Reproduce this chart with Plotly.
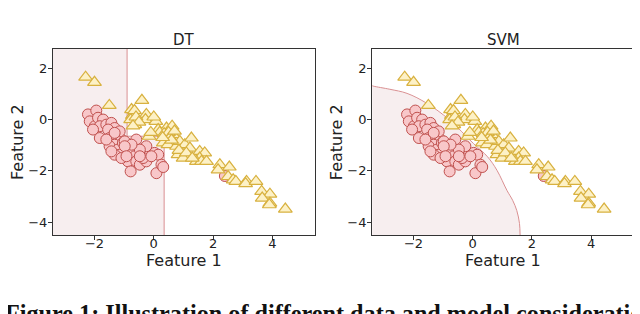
import plotly.graph_objects as go
from plotly.subplots import make_subplots

# ---------------- data ----------------
class0_x = [-2.22, -1.94, -2.16, -1.99, -1.88, -1.71, -1.82, -2.05, -1.60, -1.43, -1.32, -1.54,
            -1.82, -1.49, -1.26, -1.09, -1.32, -1.49, -1.21, -1.04, -0.98, -0.92, -1.15, -1.32,
            -0.87, -0.70, -0.59, -0.64, -0.87, -0.59, -0.47, -0.78, -0.25, -0.19, 0.03, 0.15,
            -0.25, -0.47, 0.09, 0.26, 0.32, -0.36, -0.75, -0.98, -1.15, -1.32, -1.60, -1.43,
            -1.09, -0.92, -0.47, -0.08, 2.40]
class0_y = [0.20, 0.35, -0.07, -0.26, 0.07, 0.00, -0.26, -0.39, -0.20, -0.13, -0.33, -0.39,
            -0.72, -0.72, -0.65, -0.78, -0.98, -1.04, -1.17, -0.91, -0.85, -1.17, -1.37, -1.37,
            -1.37, -1.17, -0.78, -1.43, -1.63, -1.63, -1.76, -2.02, -1.63, -1.37, -1.30, -1.37,
            -1.04, -1.17, -2.09, -1.76, -1.85, -1.50, -0.98, -1.04, -0.46, -0.52, -0.78, -1.24,
            -1.50, -1.43, -1.43, -1.43, -2.20]

class1_x = [-2.30, -2.00, -1.50, -0.40, -0.75, -0.72, -0.78, -0.64, -0.55, -0.25, -0.28, 0.07,
            -0.16, 0.15, 0.43, 0.62, 0.65, 0.32, 0.48, 0.77, 0.88, 1.05, 0.82, 0.99,
            1.27, 1.22, 1.55, 1.72, 1.55, 1.44, 1.61, 1.78, 2.23, 2.17, 2.55, 2.51,
            2.68, 2.77, 3.13, 3.10, 3.45, 3.64, 3.92, 3.66, 3.92, 3.90, 4.44,
            -0.65, -0.60, -0.50, -0.70, 0.00, 0.20, 0.35, 0.50, 0.55, 0.60, 0.70, 0.85,
            1.10, 1.30, 0.30, -0.10]
class1_y = [1.65, 1.45, 0.55, 0.75, 0.39, 0.16, 0.00, -0.20, 0.00, 0.20, 0.00, -0.07,
            -0.65, -0.39, -0.33, -0.26, -0.59, -0.91, -0.98, -1.04, -0.85, -0.98, -1.37, -1.50,
            -0.72, -1.11, -1.24, -1.30, -1.50, -1.63, -1.63, -1.63, -1.76, -1.96, -1.85, -2.22,
            -2.35, -2.41, -2.41, -2.50, -2.41, -2.80, -2.91, -3.06, -3.26, -3.32, -3.49,
            0.35, 0.10, -0.10, -0.25, 0.10, -0.50, -0.55, -0.50, -0.70, -0.80, -0.45, -1.20,
            -1.30, -1.50, -0.70, -0.50]

x_range = [-3.40, 5.45]
y_range = [-4.50, 2.75]

# decision tree splits
dt_split_x1 = -0.90
dt_split_x2 = 0.35
dt_split_y = -0.65

# SVM decision boundary
svm_bx = [-3.40, -3.35, -2.80, -2.22, -1.55, -0.80, 0.03, 0.50, 0.82, 1.16, 1.35, 1.49, 1.58, 1.60]
svm_by = [1.32, 1.30, 1.18, 1.02, 0.63, 0.00, -0.94, -1.45, -1.98, -2.77, -3.15, -3.55, -4.05, -4.50]

titles = ["DT", "SVM"]
x_title = "Feature 1"
y_title = "Feature 2"
x_ticks = [-4, -2, 0, 2, 4]
y_ticks = [-4, -2, 0, 2]
caption = "Figure 1: Illustration of different data and model consideration"

# ---------------- styles ----------------
region_fill = "#f7eeef"
boundary_col = "#d98f91"
c0_fill = "#f8c7c9"
c0_line = "#c0504d"
c1_fill = "#fdf1c6"
c1_line = "#d8b13f"
txt = "#222222"

fig = make_subplots(rows=1, cols=2)

# DT region
dt_px = [x_range[0], x_range[0], dt_split_x1, dt_split_x1, dt_split_x2, dt_split_x2, x_range[0]]
dt_py = [y_range[0], y_range[1], y_range[1], dt_split_y, dt_split_y, y_range[0], y_range[0]]
fig.add_trace(go.Scatter(x=dt_px, y=dt_py, fill="toself", fillcolor=region_fill, mode="none",
                         hoverinfo="skip", showlegend=False), row=1, col=1)
fig.add_trace(go.Scatter(x=[dt_split_x1, dt_split_x1, dt_split_x2, dt_split_x2],
                         y=[y_range[1], dt_split_y, dt_split_y, y_range[0]],
                         mode="lines", line=dict(color=boundary_col, width=1),
                         hoverinfo="skip", showlegend=False), row=1, col=1)

# SVM region
svm_px = svm_bx + [x_range[0]]
svm_py = svm_by + [y_range[0]]
fig.add_trace(go.Scatter(x=svm_px, y=svm_py, fill="toself", fillcolor=region_fill, mode="none",
                         hoverinfo="skip", showlegend=False), row=1, col=2)
fig.add_trace(go.Scatter(x=svm_bx, y=svm_by, mode="lines",
                         line=dict(color=boundary_col, width=1, shape="spline"),
                         hoverinfo="skip", showlegend=False), row=1, col=2)

for col in (1, 2):
    fig.add_trace(go.Scatter(x=class0_x, y=class0_y, mode="markers",
                             marker=dict(symbol="circle", size=11, color=c0_fill,
                                         line=dict(color=c0_line, width=1)),
                             showlegend=False), row=1, col=col)
    fig.add_trace(go.Scatter(x=class1_x, y=class1_y, mode="markers",
                             marker=dict(symbol="triangle-up", size=12, color=c1_fill,
                                         line=dict(color=c1_line, width=1.2)),
                             showlegend=False), row=1, col=col)

axis_common = dict(showgrid=False, zeroline=False, showline=True, mirror=True,
                   linecolor="#333333", linewidth=1, ticks="outside", ticklen=4,
                   tickcolor="#333333", tickfont=dict(family="DejaVu Sans", size=13, color=txt))

# page body has an 8px offset, so the layout is shifted to compensate
W, H = 640, 314
plot_l, plot_r, plot_t, plot_b = 45, 626.3, 41, 227
pw = plot_r - plot_l
dom1 = [0, 262.4 / pw]
dom2 = [(364.3 - plot_l) / pw, 1]

fig.update_xaxes(domain=dom1, row=1, col=1)
fig.update_xaxes(domain=dom2, row=1, col=2)
for col in (1, 2):
    fig.update_xaxes(range=x_range, tickvals=x_ticks, ticklabelstandoff=-8, **axis_common, row=1, col=col)
    fig.update_yaxes(range=y_range, tickvals=y_ticks, ticklabelstandoff=-2, **axis_common, row=1, col=col)

ph = plot_b - plot_t
for i, (xa, ya) in enumerate([("x", "y"), ("x2", "y2")]):
    dw = (dom1[1] - dom1[0]) * pw if i == 0 else (dom2[1] - dom2[0]) * pw
    fig.add_annotation(text=titles[i], xref=xa + " domain", yref=ya + " domain", x=0.5, y=1 + 9 / ph,
                       xanchor="center", yanchor="middle", showarrow=False,
                       font=dict(family="DejaVu Sans", size=15, color=txt))
    fig.add_annotation(text=x_title, xref=xa + " domain", yref=ya + " domain", x=0.5, y=-25.5 / ph,
                       xanchor="center", yanchor="middle", showarrow=False,
                       font=dict(family="DejaVu Sans", size=16, color=txt))
    fig.add_annotation(text=y_title, xref=xa + " domain", yref=ya + " domain", x=-36 / dw, y=0.5,
                       xanchor="center", yanchor="middle", showarrow=False, textangle=-90,
                       font=dict(family="DejaVu Sans", size=16, color=txt))

fig.add_annotation(text="<b>" + caption + "</b>", xref="paper", yref="paper",
                   x=(-5 - plot_l) / pw, y=(plot_b - 290) / ph,
                   xanchor="left", yanchor="top", showarrow=False,
                   font=dict(family="Liberation Serif", size=24.2, color="#111111"))

fig.update_layout(width=W, height=H,
                  margin=dict(l=plot_l, r=W - plot_r, t=plot_t, b=H - plot_b),
                  paper_bgcolor="white", plot_bgcolor="white")

fig.write_html("out.html")
